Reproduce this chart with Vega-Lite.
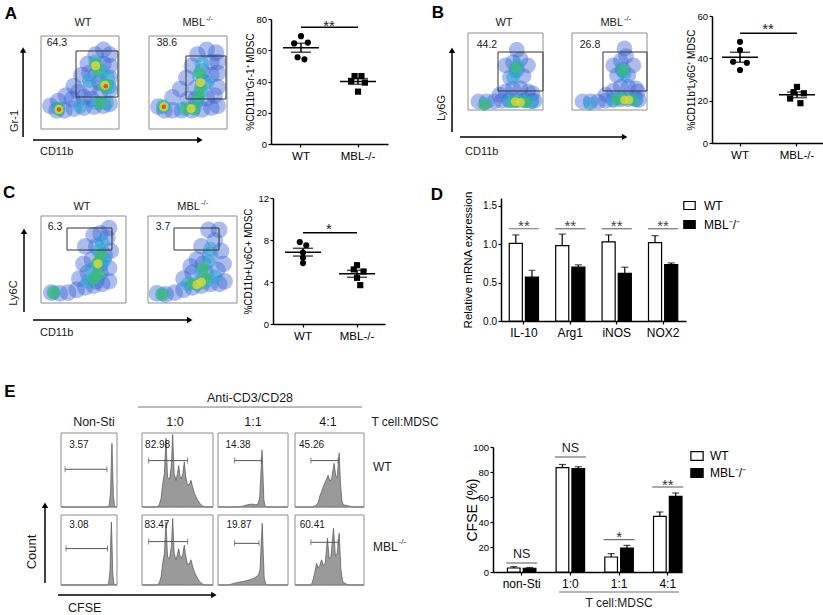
{
  "$schema": "https://vega.github.io/schema/vega-lite/v6.json",
  "padding": 0,
  "background": "white",
  "spacing": 0,
  "config": {
    "font": "Liberation Sans",
    "view": {"stroke": null},
    "axis": {"grid": false, "domainColor": "black", "domainWidth": 1.5, "tickColor": "black", "tickWidth": 1.2, "tickSize": 3, "labelFontSize": 11, "labelColor": "black", "titleColor": "black", "titleFontWeight": "normal", "labelAngle": 0, "labelOverlap": false},
    "axisX": {"labelPadding": 3.5},
    "axisY": {"labelPadding": 1.5, "tickCount": 12},
    "text": {"color": "#1a1a1a"},
    "legend": {"labelColor": "black"}
  },
  "datasets": {
    "aWT": [{"x":12,"y":25,"l":1},{"x":20,"y":20,"l":1},{"x":30,"y":20,"l":1},{"x":42,"y":22,"l":1},{"x":55,"y":23,"l":1},{"x":68,"y":24,"l":1},{"x":80,"y":25,"l":1},{"x":88,"y":27,"l":1},{"x":32,"y":36,"l":1},{"x":42,"y":46,"l":1},{"x":52,"y":58,"l":1},{"x":60,"y":70,"l":1},{"x":70,"y":80,"l":1},{"x":80,"y":85,"l":1},{"x":88,"y":80,"l":1},{"x":88,"y":68,"l":1},{"x":88,"y":55,"l":1},{"x":88,"y":42,"l":1},{"x":76,"y":40,"l":1},{"x":63,"y":44,"l":1},{"x":55,"y":34,"l":1},{"x":70,"y":58,"l":1},{"x":80,"y":70,"l":1},{"x":48,"y":40,"l":1},{"x":22,"y":30,"l":1},{"x":40,"y":32,"l":1},{"x":65,"y":32,"l":1},{"x":75,"y":50,"l":1},{"x":62,"y":60,"l":1},{"x":22,"y":22,"l":2},{"x":70,"y":72,"l":2},{"x":78,"y":62,"l":2},{"x":86,"y":55,"l":2},{"x":84,"y":45,"l":2},{"x":72,"y":28,"l":2},{"x":84,"y":28,"l":2},{"x":62,"y":52,"l":2},{"x":88,"y":45,"l":2},{"x":50,"y":24,"l":2},{"x":23,"y":21,"l":3},{"x":70,"y":70,"l":3},{"x":73,"y":63,"l":3},{"x":84,"y":48,"l":3},{"x":80,"y":46,"l":3},{"x":76,"y":28,"l":3},{"x":23,"y":21,"l":4},{"x":70,"y":68,"l":4},{"x":82,"y":47,"l":4},{"x":23,"y":21,"l":5},{"x":83,"y":46,"l":5}],
    "aMBL": [{"x":12,"y":24,"l":1},{"x":20,"y":20,"l":1},{"x":30,"y":20,"l":1},{"x":42,"y":20,"l":1},{"x":55,"y":20,"l":1},{"x":68,"y":21,"l":1},{"x":80,"y":23,"l":1},{"x":88,"y":25,"l":1},{"x":30,"y":34,"l":1},{"x":40,"y":43,"l":1},{"x":48,"y":55,"l":1},{"x":55,"y":68,"l":1},{"x":62,"y":80,"l":1},{"x":74,"y":85,"l":1},{"x":86,"y":82,"l":1},{"x":88,"y":72,"l":1},{"x":88,"y":60,"l":1},{"x":88,"y":45,"l":1},{"x":84,"y":36,"l":1},{"x":74,"y":33,"l":1},{"x":50,"y":32,"l":1},{"x":80,"y":58,"l":1},{"x":80,"y":72,"l":1},{"x":70,"y":50,"l":1},{"x":60,"y":44,"l":1},{"x":60,"y":32,"l":1},{"x":68,"y":62,"l":1},{"x":18,"y":24,"l":2},{"x":45,"y":22,"l":2},{"x":58,"y":22,"l":2},{"x":66,"y":40,"l":2},{"x":64,"y":58,"l":2},{"x":68,"y":70,"l":2},{"x":75,"y":50,"l":2},{"x":62,"y":30,"l":2},{"x":19,"y":24,"l":3},{"x":48,"y":22,"l":3},{"x":58,"y":22,"l":3},{"x":66,"y":45,"l":3},{"x":65,"y":60,"l":3},{"x":64,"y":35,"l":3},{"x":19,"y":24,"l":4},{"x":66,"y":50,"l":4},{"x":54,"y":22,"l":4},{"x":19,"y":24,"l":5}],
    "bWT": [{"x":14,"y":11,"l":1},{"x":25,"y":11,"l":1},{"x":35,"y":11,"l":1},{"x":45,"y":12,"l":1},{"x":55,"y":13,"l":1},{"x":65,"y":13,"l":1},{"x":75,"y":13,"l":1},{"x":85,"y":12,"l":1},{"x":89,"y":12,"l":1},{"x":50,"y":24,"l":1},{"x":60,"y":28,"l":1},{"x":70,"y":28,"l":1},{"x":80,"y":24,"l":1},{"x":56,"y":42,"l":1},{"x":74,"y":44,"l":1},{"x":60,"y":62,"l":1},{"x":70,"y":66,"l":1},{"x":65,"y":78,"l":1},{"x":50,"y":58,"l":1},{"x":80,"y":58,"l":1},{"x":42,"y":20,"l":1},{"x":86,"y":22,"l":1},{"x":65,"y":52,"l":1},{"x":22,"y":8,"l":2},{"x":55,"y":11,"l":2},{"x":65,"y":12,"l":2},{"x":75,"y":11,"l":2},{"x":85,"y":10,"l":2},{"x":63,"y":50,"l":2},{"x":66,"y":58,"l":2},{"x":60,"y":42,"l":2},{"x":22,"y":7,"l":3},{"x":60,"y":10,"l":3},{"x":68,"y":11,"l":3},{"x":78,"y":10,"l":3},{"x":64,"y":55,"l":3},{"x":63,"y":11,"l":4},{"x":70,"y":10,"l":4}],
    "bMBL": [{"x":14,"y":11,"l":1},{"x":25,"y":11,"l":1},{"x":35,"y":11,"l":1},{"x":45,"y":12,"l":1},{"x":55,"y":13,"l":1},{"x":65,"y":14,"l":1},{"x":75,"y":14,"l":1},{"x":85,"y":14,"l":1},{"x":89,"y":13,"l":1},{"x":55,"y":25,"l":1},{"x":65,"y":30,"l":1},{"x":75,"y":30,"l":1},{"x":85,"y":28,"l":1},{"x":60,"y":45,"l":1},{"x":75,"y":45,"l":1},{"x":65,"y":64,"l":1},{"x":72,"y":70,"l":1},{"x":70,"y":80,"l":1},{"x":55,"y":58,"l":1},{"x":82,"y":58,"l":1},{"x":45,"y":20,"l":1},{"x":88,"y":24,"l":1},{"x":68,"y":52,"l":1},{"x":24,"y":8,"l":2},{"x":55,"y":13,"l":2},{"x":65,"y":15,"l":2},{"x":75,"y":15,"l":2},{"x":85,"y":13,"l":2},{"x":66,"y":52,"l":2},{"x":70,"y":46,"l":2},{"x":60,"y":14,"l":3},{"x":70,"y":14,"l":3},{"x":80,"y":13,"l":3},{"x":68,"y":52,"l":3},{"x":70,"y":13,"l":4},{"x":76,"y":13,"l":4}],
    "cWT": [{"x":12,"y":12,"l":1},{"x":22,"y":11,"l":1},{"x":32,"y":12,"l":1},{"x":42,"y":15,"l":1},{"x":52,"y":18,"l":1},{"x":62,"y":20,"l":1},{"x":72,"y":22,"l":1},{"x":80,"y":25,"l":1},{"x":45,"y":28,"l":1},{"x":55,"y":35,"l":1},{"x":70,"y":35,"l":1},{"x":80,"y":40,"l":1},{"x":60,"y":50,"l":1},{"x":75,"y":55,"l":1},{"x":82,"y":60,"l":1},{"x":65,"y":65,"l":1},{"x":78,"y":75,"l":1},{"x":70,"y":80,"l":1},{"x":80,"y":86,"l":1},{"x":52,"y":65,"l":1},{"x":62,"y":78,"l":1},{"x":50,"y":45,"l":1},{"x":65,"y":25,"l":1},{"x":70,"y":45,"l":1},{"x":15,"y":12,"l":2},{"x":55,"y":25,"l":2},{"x":65,"y":30,"l":2},{"x":70,"y":45,"l":2},{"x":68,"y":60,"l":2},{"x":75,"y":50,"l":2},{"x":72,"y":70,"l":2},{"x":60,"y":38,"l":2},{"x":15,"y":12,"l":3},{"x":66,"y":46,"l":3},{"x":68,"y":33,"l":3},{"x":70,"y":55,"l":3},{"x":62,"y":28,"l":3},{"x":67,"y":45,"l":4}],
    "cMBL": [{"x":10,"y":11,"l":1},{"x":20,"y":10,"l":1},{"x":30,"y":12,"l":1},{"x":40,"y":15,"l":1},{"x":50,"y":18,"l":1},{"x":60,"y":20,"l":1},{"x":70,"y":22,"l":1},{"x":80,"y":22,"l":1},{"x":86,"y":25,"l":1},{"x":40,"y":28,"l":1},{"x":50,"y":35,"l":1},{"x":65,"y":35,"l":1},{"x":78,"y":38,"l":1},{"x":85,"y":45,"l":1},{"x":55,"y":50,"l":1},{"x":70,"y":55,"l":1},{"x":82,"y":60,"l":1},{"x":60,"y":65,"l":1},{"x":75,"y":72,"l":1},{"x":68,"y":84,"l":1},{"x":80,"y":84,"l":1},{"x":48,"y":42,"l":1},{"x":62,"y":45,"l":1},{"x":16,"y":10,"l":2},{"x":45,"y":22,"l":2},{"x":55,"y":22,"l":2},{"x":65,"y":25,"l":2},{"x":60,"y":35,"l":2},{"x":68,"y":48,"l":2},{"x":70,"y":62,"l":2},{"x":75,"y":30,"l":2},{"x":16,"y":10,"l":3},{"x":50,"y":22,"l":3},{"x":58,"y":22,"l":3},{"x":65,"y":28,"l":3},{"x":62,"y":40,"l":3},{"x":55,"y":21,"l":4},{"x":60,"y":24,"l":4}],
    "aS": [{"g":"WT","r":3,"v":69},{"g":"WT","r":1,"v":64.4},{"g":"WT","r":5,"v":64.9},{"g":"WT","r":2,"v":55.5},{"g":"WT","r":4,"v":54.2},{"g":"MBL-/-","r":2,"v":43.5},{"g":"MBL-/-","r":4,"v":43.5},{"g":"MBL-/-","r":1,"v":40.3},{"g":"MBL-/-","r":5,"v":39.3},{"g":"MBL-/-","r":3,"v":33.5}],
    "bS": [{"g":"WT","r":3,"v":47.8},{"g":"WT","r":3,"v":43.9},{"g":"WT","r":1,"v":38.4},{"g":"WT","r":5,"v":37.9},{"g":"WT","r":3,"v":34.5},{"g":"MBL-/-","r":3,"v":26.5},{"g":"MBL-/-","r":2,"v":24},{"g":"MBL-/-","r":5,"v":23.5},{"g":"MBL-/-","r":1,"v":21},{"g":"MBL-/-","r":4,"v":18.8}],
    "cS": [{"g":"WT","r":2,"v":7.8},{"g":"WT","r":4,"v":7.5},{"g":"WT","r":3,"v":6.8},{"g":"WT","r":3,"v":6.3},{"g":"WT","r":3,"v":5.8},{"g":"MBL-/-","r":3,"v":5.6},{"g":"MBL-/-","r":2,"v":5.2},{"g":"MBL-/-","r":5,"v":5.0},{"g":"MBL-/-","r":3,"v":4.4},{"g":"MBL-/-","r":4,"v":3.7}],
    "dD": [{"gene":"IL-10","g":"WT","val":1.01,"hi":1.12},{"gene":"IL-10","g":"MBL","val":0.57,"hi":0.66},{"gene":"Arg1","g":"WT","val":0.98,"hi":1.13},{"gene":"Arg1","g":"MBL","val":0.70,"hi":0.73},{"gene":"iNOS","g":"WT","val":1.03,"hi":1.12},{"gene":"iNOS","g":"MBL","val":0.62,"hi":0.70},{"gene":"NOX2","g":"WT","val":1.02,"hi":1.11},{"gene":"NOX2","g":"MBL","val":0.735,"hi":0.755}],
    "dSig": [{"gene":"IL-10"},{"gene":"Arg1"},{"gene":"iNOS"},{"gene":"NOX2"}],
    "dE": [{"c":"non-Sti","g":"WT","val":3.2,"hi":4.3},{"c":"non-Sti","g":"MBL","val":3.0,"hi":3.6},{"c":"1:0","g":"WT","val":83.5,"hi":86},{"c":"1:0","g":"MBL","val":82.7,"hi":84.2},{"c":"1:1","g":"WT","val":12,"hi":14.7},{"c":"1:1","g":"MBL","val":19.2,"hi":21.3},{"c":"4:1","g":"WT","val":44.5,"hi":48},{"c":"4:1","g":"MBL","val":60.5,"hi":63.2}],
    "eSig": [{"c":"non-Sti","p":"NS","at":7.2},{"c":"1:0","p":"NS","at":92},{"c":"1:1","p":"*","at":25.9},{"c":"4:1","p":"**","at":68}],
    "hNsW": [{"x":0,"y":0},{"x":82,"y":0},{"x":86,"y":2},{"x":88.5,"y":20},{"x":90,"y":65},{"x":91,"y":86},{"x":92,"y":60},{"x":93.5,"y":15},{"x":95.5,"y":2},{"x":98,"y":0},{"x":100,"y":0}],
    "hNsM": [{"x":0,"y":0},{"x":81,"y":0},{"x":85,"y":2},{"x":87.5,"y":20},{"x":89,"y":70},{"x":90,"y":90},{"x":91,"y":62},{"x":92.5,"y":15},{"x":94.5,"y":2},{"x":97,"y":0},{"x":100,"y":0}],
    "h10W": [{"x":0,"y":0},{"x":20,"y":0},{"x":24,"y":2},{"x":27,"y":12},{"x":29,"y":30},{"x":31.5,"y":45},{"x":33.8,"y":93},{"x":36,"y":40},{"x":38.9,"y":38},{"x":41.3,"y":55},{"x":43.2,"y":98},{"x":45.3,"y":45},{"x":47.9,"y":36},{"x":50,"y":45},{"x":51.6,"y":56},{"x":53.5,"y":42},{"x":55.5,"y":38},{"x":57.5,"y":45},{"x":59.6,"y":61},{"x":61.5,"y":42},{"x":64,"y":30},{"x":66.5,"y":30},{"x":69,"y":36},{"x":71,"y":28},{"x":74,"y":18},{"x":78,"y":10},{"x":82,"y":4},{"x":86,"y":1},{"x":90,"y":0},{"x":100,"y":0}],
    "h10M": [{"x":0,"y":0},{"x":20,"y":0},{"x":24,"y":2},{"x":27,"y":12},{"x":29,"y":30},{"x":31.5,"y":45},{"x":33.8,"y":90},{"x":36,"y":40},{"x":38.9,"y":38},{"x":41.3,"y":55},{"x":43.2,"y":95},{"x":45.3,"y":45},{"x":47.9,"y":36},{"x":50,"y":44},{"x":51.6,"y":52},{"x":53.5,"y":42},{"x":55.5,"y":38},{"x":57.5,"y":44},{"x":59.6,"y":57},{"x":61.5,"y":42},{"x":64,"y":30},{"x":66.5,"y":30},{"x":69,"y":36},{"x":71,"y":28},{"x":74,"y":18},{"x":78,"y":10},{"x":82,"y":4},{"x":86,"y":1},{"x":90,"y":0},{"x":100,"y":0}],
    "h11W": [{"x":0,"y":0},{"x":25,"y":0},{"x":35,"y":1},{"x":42,"y":3},{"x":48,"y":4},{"x":54,"y":3},{"x":57,"y":4},{"x":59.5,"y":12},{"x":61,"y":40},{"x":62.9,"y":77},{"x":64.2,"y":45},{"x":65.5,"y":10},{"x":67,"y":2},{"x":70,"y":0},{"x":100,"y":0}],
    "h11M": [{"x":0,"y":0},{"x":15,"y":0},{"x":21,"y":2},{"x":30,"y":4},{"x":40,"y":6},{"x":47,"y":8},{"x":52,"y":10},{"x":56,"y":13},{"x":58,"y":15},{"x":60,"y":22},{"x":61.5,"y":55},{"x":63.2,"y":88},{"x":64.5,"y":50},{"x":66,"y":10},{"x":68,"y":2},{"x":71,"y":0},{"x":100,"y":0}],
    "h41W": [{"x":0,"y":0},{"x":25,"y":0},{"x":30,"y":2},{"x":33.7,"y":6},{"x":36,"y":15},{"x":39,"y":22},{"x":42,"y":30},{"x":45,"y":36},{"x":48,"y":43},{"x":50.5,"y":35},{"x":53,"y":38},{"x":56.7,"y":59},{"x":59,"y":42},{"x":61,"y":40},{"x":64,"y":73},{"x":66,"y":30},{"x":68,"y":8},{"x":70,"y":3},{"x":75,"y":2},{"x":80,"y":1},{"x":85,"y":0},{"x":100,"y":0}],
    "h41M": [{"x":0,"y":0},{"x":22,"y":0},{"x":25,"y":3},{"x":28,"y":15},{"x":31.3,"y":31},{"x":33.5,"y":24},{"x":36,"y":28},{"x":38.5,"y":36},{"x":41,"y":28},{"x":44,"y":32},{"x":47,"y":67},{"x":49.5,"y":38},{"x":52,"y":40},{"x":55.8,"y":81},{"x":58.5,"y":42},{"x":61,"y":44},{"x":64,"y":74},{"x":66.5,"y":22},{"x":69,"y":5},{"x":73,"y":2},{"x":78,"y":0},{"x":100,"y":0}]
  },
  "resolve": {"scale": {"x": "independent", "y": "independent", "xOffset": "independent", "fill": "independent", "size": "independent", "opacity": "independent", "shape": "independent", "color": "independent"}},
  "vconcat": [
    {
      "hconcat": [
        {
          "width": 149, "height": 165,
          "data": {"values": [{}]},
          "layer": [
            {"data": {"name": "aWT"}, "mark": {"type": "circle", "strokeWidth": 0}, "encoding": {"x": {"field": "x", "type": "quantitative", "scale": {"domain": [0, 100], "range": [41, 119]}, "axis": null}, "y": {"field": "y", "type": "quantitative", "scale": {"domain": [0, 100], "range": [129, 36]}, "axis": null}, "size": {"field": "l", "type": "quantitative", "scale": {"domain": [1, 5], "range": [280, 20]}, "legend": null}, "fill": {"field": "l", "type": "ordinal", "scale": {"domain": [1, 2, 3, 4, 5], "range": ["#3a62d4", "#27a9d6", "#3cbf6a", "#dcd83a", "#e2452c"]}, "legend": null}, "opacity": {"field": "l", "type": "quantitative", "scale": {"domain": [1, 5], "range": [0.42, 0.95]}, "legend": null}}},
            {"mark": {"type": "rect", "filled": false, "stroke": "#8c8c8c", "strokeWidth": 1}, "encoding": {"x": {"datum": 0, "axis": null}, "x2": {"datum": 100}, "y": {"datum": 0, "axis": null}, "y2": {"datum": 100}}},
            {"mark": {"type": "rect", "filled": false, "stroke": "#333333", "strokeWidth": 1}, "encoding": {"x": {"datum": 44.9, "axis": null}, "x2": {"datum": 98.7}, "y": {"datum": 34.4, "axis": null}, "y2": {"datum": 83.9}}},
            {"mark": {"type": "rule", "strokeWidth": 1.5, "color": "black"}, "encoding": {"x": {"datum": -23, "axis": null}, "y": {"datum": -8.6, "axis": null}, "y2": {"datum": 85}}},
            {"mark": {"type": "point", "shape": "triangle-up", "filled": true, "opacity": 1, "color": "black", "size": 40}, "encoding": {"x": {"datum": -23, "axis": null}, "y": {"datum": 85, "axis": null}}},
            {"mark": {"type": "text", "text": "Gr-1", "angle": 270, "fontSize": 11}, "encoding": {"x": {"datum": -33.3, "axis": null}, "y": {"datum": 8.6, "axis": null}}},
            {"mark": {"type": "rule", "strokeWidth": 1.5, "color": "black"}, "encoding": {"x": {"datum": -10.3, "axis": null}, "x2": {"datum": 203.7}, "y": {"datum": -11.8, "axis": null}}},
            {"mark": {"type": "point", "shape": "triangle-right", "filled": true, "opacity": 1, "color": "black", "size": 40}, "encoding": {"x": {"datum": 203.7, "axis": null}, "y": {"datum": -11.8, "axis": null}}},
            {"mark": {"type": "text", "text": "CD11b", "align": "left", "fontSize": 11}, "encoding": {"x": {"datum": -1.3, "axis": null}, "y": {"datum": -24.7, "axis": null}}},
            {"mark": {"type": "text", "text": "A", "fontSize": 17, "fontWeight": "bold", "color": "black"}, "encoding": {"x": {"datum": -38.5, "axis": null}, "y": {"datum": 123.7, "axis": null}}},
            {"mark": {"type": "text", "text": "WT", "fontSize": 11}, "encoding": {"x": {"datum": 53.8, "axis": null}, "y": {"datum": 114, "axis": null}}},
            {"mark": {"type": "text", "text": "64.3", "fontSize": 10.5}, "encoding": {"x": {"datum": 20.5, "axis": null}, "y": {"datum": 92.5, "axis": null}}}
          ]
        },
        {
          "width": 122, "height": 165,
          "data": {"values": [{}]},
          "layer": [
            {"data": {"name": "aMBL"}, "mark": {"type": "circle", "strokeWidth": 0}, "encoding": {"x": {"field": "x", "type": "quantitative", "scale": {"domain": [0, 100], "range": [0, 78]}, "axis": null}, "y": {"field": "y", "type": "quantitative", "scale": {"domain": [0, 100], "range": [129, 36]}, "axis": null}, "size": {"field": "l", "type": "quantitative", "scale": {"domain": [1, 5], "range": [280, 20]}, "legend": null}, "fill": {"field": "l", "type": "ordinal", "scale": {"domain": [1, 2, 3, 4, 5], "range": ["#3a62d4", "#27a9d6", "#3cbf6a", "#dcd83a", "#e2452c"]}, "legend": null}, "opacity": {"field": "l", "type": "quantitative", "scale": {"domain": [1, 5], "range": [0.42, 0.95]}, "legend": null}}},
            {"mark": {"type": "rect", "filled": false, "stroke": "#8c8c8c", "strokeWidth": 1}, "encoding": {"x": {"datum": 0, "axis": null}, "x2": {"datum": 100}, "y": {"datum": 0, "axis": null}, "y2": {"datum": 100}}},
            {"mark": {"type": "rect", "filled": false, "stroke": "#333333", "strokeWidth": 1}, "encoding": {"x": {"datum": 47.4, "axis": null}, "x2": {"datum": 98.7}, "y": {"datum": 32.3, "axis": null}, "y2": {"datum": 78.5}}},
            {"mark": {"type": "text", "text": "MBL", "align": "right", "fontSize": 11}, "encoding": {"x": {"datum": 71.8, "axis": null}, "y": {"datum": 114, "axis": null}}},
            {"mark": {"type": "text", "text": "-/-", "align": "left", "fontSize": 7.5}, "encoding": {"x": {"datum": 73, "axis": null}, "y": {"datum": 118.3, "axis": null}}},
            {"mark": {"type": "text", "text": "38.6", "fontSize": 10.5}, "encoding": {"x": {"datum": 23, "axis": null}, "y": {"datum": 92.5, "axis": null}}}
          ]
        },
        {
          "width": 149, "height": 144,
          "data": {"name": "aS"},
          "layer": [
            {"mark": {"type": "point", "filled": true, "opacity": 1, "color": "black", "size": 38}, "encoding": {
              "x": {"field": "g", "type": "nominal", "scale": {"domain": ["WT", "MBL-/-"], "range": [0, 117], "paddingInner": 0.7, "paddingOuter": 0.376}, "axis": {"title": null, "labelFontSize": 11.5}},
              "y": {"field": "v", "type": "quantitative", "scale": {"domain": [0, 80], "range": [144, 19]}, "axis": {"values": [0, 20, 40, 60, 80], "tickCount": 12, "labelFontSize": 9.5, "titleFontSize": 10, "titleX": -21, "titleBaseline": "middle"}, "title": "%CD11b⁺Gr-1⁺ MDSC"},
              "xOffset": {"field": "r", "type": "nominal", "scale": {"domain": [1, 2, 3, 4, 5]}},
              "shape": {"field": "g", "type": "nominal", "scale": {"domain": ["WT", "MBL-/-"], "range": ["circle", "square"]}, "legend": null}}},
            {"mark": {"type": "tick", "size": 36, "thickness": 1.5, "color": "black"}, "encoding": {"x": {"field": "g", "type": "nominal", "title": null}, "y": {"aggregate": "mean", "field": "v", "type": "quantitative", "title": "%CD11b⁺Gr-1⁺ MDSC"}}},
            {"mark": {"type": "errorbar", "extent": "stderr", "ticks": {"size": 20}, "thickness": 1.5, "color": "black"}, "encoding": {"x": {"field": "g", "type": "nominal", "title": null}, "y": {"field": "v", "type": "quantitative", "title": "%CD11b⁺Gr-1⁺ MDSC"}}},
            {"data": {"values": [{}]}, "mark": {"type": "rule", "strokeWidth": 1.5, "color": "black"}, "encoding": {"x": {"datum": "WT", "title": null}, "x2": {"datum": "MBL-/-"}, "y": {"datum": 74.7, "title": "%CD11b⁺Gr-1⁺ MDSC"}}},
            {"data": {"values": [{}]}, "mark": {"type": "text", "text": "**", "fontSize": 15, "dx": 28, "dy": 3.6, "baseline": "alphabetic", "color": "#222222"}, "encoding": {"x": {"datum": "WT", "title": null}, "y": {"datum": 74.7, "title": "%CD11b⁺Gr-1⁺ MDSC"}}}
          ]
        },
        {
          "width": 152, "height": 165,
          "data": {"values": [{}]},
          "layer": [
            {"data": {"name": "bWT"}, "mark": {"type": "circle", "strokeWidth": 0}, "encoding": {"x": {"field": "x", "type": "quantitative", "scale": {"domain": [0, 100], "range": [48, 123]}, "axis": null}, "y": {"field": "y", "type": "quantitative", "scale": {"domain": [0, 100], "range": [110, 33]}, "axis": null}, "size": {"field": "l", "type": "quantitative", "scale": {"domain": [1, 5], "range": [250, 20]}, "legend": null}, "fill": {"field": "l", "type": "ordinal", "scale": {"domain": [1, 2, 3, 4, 5], "range": ["#3a62d4", "#27a9d6", "#3cbf6a", "#dcd83a", "#e2452c"]}, "legend": null}, "opacity": {"field": "l", "type": "quantitative", "scale": {"domain": [1, 5], "range": [0.42, 0.95]}, "legend": null}}},
            {"mark": {"type": "rect", "filled": false, "stroke": "#8c8c8c", "strokeWidth": 1}, "encoding": {"x": {"datum": 0, "axis": null}, "x2": {"datum": 100}, "y": {"datum": 0, "axis": null}, "y2": {"datum": 100}}},
            {"mark": {"type": "rect", "filled": false, "stroke": "#333333", "strokeWidth": 1}, "encoding": {"x": {"datum": 40, "axis": null}, "x2": {"datum": 100}, "y": {"datum": 24.7, "axis": null}, "y2": {"datum": 75.3}}},
            {"mark": {"type": "rule", "strokeWidth": 1.5, "color": "black"}, "encoding": {"x": {"datum": -21.3, "axis": null}, "y": {"datum": -28.6, "axis": null}, "y2": {"datum": 77.7}}},
            {"mark": {"type": "point", "shape": "triangle-up", "filled": true, "opacity": 1, "color": "black", "size": 40}, "encoding": {"x": {"datum": -21.3, "axis": null}, "y": {"datum": 77.7, "axis": null}}},
            {"mark": {"type": "text", "text": "Ly6G", "angle": 270, "fontSize": 11}, "encoding": {"x": {"datum": -34.7, "axis": null}, "y": {"datum": 2.6, "axis": null}}},
            {"mark": {"type": "rule", "strokeWidth": 1.5, "color": "black"}, "encoding": {"x": {"datum": -10.7, "axis": null}, "x2": {"datum": 208.8}, "y": {"datum": -35, "axis": null}}},
            {"mark": {"type": "point", "shape": "triangle-right", "filled": true, "opacity": 1, "color": "black", "size": 40}, "encoding": {"x": {"datum": 208.8, "axis": null}, "y": {"datum": -35, "axis": null}}},
            {"mark": {"type": "text", "text": "CD11b", "align": "left", "fontSize": 11}, "encoding": {"x": {"datum": -4, "axis": null}, "y": {"datum": -54.5, "axis": null}}},
            {"mark": {"type": "text", "text": "B", "fontSize": 17, "fontWeight": "bold", "color": "black"}, "encoding": {"x": {"datum": -40, "axis": null}, "y": {"datum": 126, "axis": null}}},
            {"mark": {"type": "text", "text": "WT", "fontSize": 11}, "encoding": {"x": {"datum": 48, "axis": null}, "y": {"datum": 113, "axis": null}}},
            {"mark": {"type": "text", "text": "44.2", "fontSize": 10.5}, "encoding": {"x": {"datum": 25.3, "axis": null}, "y": {"datum": 84.4, "axis": null}}}
          ]
        },
        {
          "width": 140, "height": 165,
          "data": {"values": [{}]},
          "layer": [
            {"data": {"name": "bMBL"}, "mark": {"type": "circle", "strokeWidth": 0}, "encoding": {"x": {"field": "x", "type": "quantitative", "scale": {"domain": [0, 100], "range": [0, 75]}, "axis": null}, "y": {"field": "y", "type": "quantitative", "scale": {"domain": [0, 100], "range": [110, 33]}, "axis": null}, "size": {"field": "l", "type": "quantitative", "scale": {"domain": [1, 5], "range": [250, 20]}, "legend": null}, "fill": {"field": "l", "type": "ordinal", "scale": {"domain": [1, 2, 3, 4, 5], "range": ["#3a62d4", "#27a9d6", "#3cbf6a", "#dcd83a", "#e2452c"]}, "legend": null}, "opacity": {"field": "l", "type": "quantitative", "scale": {"domain": [1, 5], "range": [0.42, 0.95]}, "legend": null}}},
            {"mark": {"type": "rect", "filled": false, "stroke": "#8c8c8c", "strokeWidth": 1}, "encoding": {"x": {"datum": 0, "axis": null}, "x2": {"datum": 100}, "y": {"datum": 0, "axis": null}, "y2": {"datum": 100}}},
            {"mark": {"type": "rect", "filled": false, "stroke": "#333333", "strokeWidth": 1}, "encoding": {"x": {"datum": 41.3, "axis": null}, "x2": {"datum": 100}, "y": {"datum": 24.7, "axis": null}, "y2": {"datum": 75.3}}},
            {"mark": {"type": "text", "text": "MBL", "align": "right", "fontSize": 11}, "encoding": {"x": {"datum": 68, "axis": null}, "y": {"datum": 113, "axis": null}}},
            {"mark": {"type": "text", "text": "-/-", "align": "left", "fontSize": 7.5}, "encoding": {"x": {"datum": 69.3, "axis": null}, "y": {"datum": 118.2, "axis": null}}},
            {"mark": {"type": "text", "text": "26.8", "fontSize": 10.5}, "encoding": {"x": {"datum": 24, "axis": null}, "y": {"datum": 84.4, "axis": null}}}
          ]
        },
        {
          "width": 111, "height": 143,
          "data": {"name": "bS"},
          "layer": [
            {"mark": {"type": "point", "filled": true, "opacity": 1, "color": "black", "size": 38}, "encoding": {
              "x": {"field": "g", "type": "nominal", "scale": {"domain": ["WT", "MBL-/-"], "range": [0, 111], "paddingInner": 0.7, "paddingOuter": 0.324, "align": 0.527}, "axis": {"title": null, "labelFontSize": 11.5}},
              "y": {"field": "v", "type": "quantitative", "scale": {"domain": [0, 60], "range": [143, 16]}, "axis": {"values": [0, 20, 40, 60], "tickCount": 12, "labelFontSize": 9.5, "titleFontSize": 10, "titleX": -21, "titleBaseline": "middle"}, "title": "%CD11b⁺Ly6G⁺ MDSC"},
              "xOffset": {"field": "r", "type": "nominal", "scale": {"domain": [1, 2, 3, 4, 5]}},
              "shape": {"field": "g", "type": "nominal", "scale": {"domain": ["WT", "MBL-/-"], "range": ["circle", "square"]}, "legend": null}}},
            {"mark": {"type": "tick", "size": 36, "thickness": 1.5, "color": "black"}, "encoding": {"x": {"field": "g", "type": "nominal", "title": null}, "y": {"aggregate": "mean", "field": "v", "type": "quantitative", "title": "%CD11b⁺Ly6G⁺ MDSC"}}},
            {"mark": {"type": "errorbar", "extent": "stderr", "ticks": {"size": 20}, "thickness": 1.5, "color": "black"}, "encoding": {"x": {"field": "g", "type": "nominal", "title": null}, "y": {"field": "v", "type": "quantitative", "title": "%CD11b⁺Ly6G⁺ MDSC"}}},
            {"data": {"values": [{}]}, "mark": {"type": "rule", "strokeWidth": 1.5, "color": "black"}, "encoding": {"x": {"datum": "WT", "title": null}, "x2": {"datum": "MBL-/-"}, "y": {"datum": 51.8, "title": "%CD11b⁺Ly6G⁺ MDSC"}}},
            {"data": {"values": [{}]}, "mark": {"type": "text", "text": "**", "fontSize": 15, "dx": 28, "dy": 0.6, "baseline": "alphabetic", "color": "#222222"}, "encoding": {"x": {"datum": "WT", "title": null}, "y": {"datum": 51.8, "title": "%CD11b⁺Ly6G⁺ MDSC"}}}
          ]
        }
      ],
      "spacing": 0,
      "bounds": "flush",
      "resolve": {"scale": {"x": "independent", "y": "independent", "xOffset": "independent", "fill": "independent", "size": "independent", "opacity": "independent", "shape": "independent", "color": "independent"}}
    },
    {
      "hconcat": [
        {
          "width": 148, "height": 215,
          "data": {"values": [{}]},
          "layer": [
            {"data": {"name": "cWT"}, "mark": {"type": "circle", "strokeWidth": 0}, "encoding": {"x": {"field": "x", "type": "quantitative", "scale": {"domain": [0, 100], "range": [41, 126]}, "axis": null}, "y": {"field": "y", "type": "quantitative", "scale": {"domain": [0, 100], "range": [138, 51]}, "axis": null}, "size": {"field": "l", "type": "quantitative", "scale": {"domain": [1, 5], "range": [280, 20]}, "legend": null}, "fill": {"field": "l", "type": "ordinal", "scale": {"domain": [1, 2, 3, 4, 5], "range": ["#3a62d4", "#27a9d6", "#3cbf6a", "#dcd83a", "#e2452c"]}, "legend": null}, "opacity": {"field": "l", "type": "quantitative", "scale": {"domain": [1, 5], "range": [0.42, 0.95]}, "legend": null}}},
            {"mark": {"type": "rect", "filled": false, "stroke": "#8c8c8c", "strokeWidth": 1}, "encoding": {"x": {"datum": 0, "axis": null}, "x2": {"datum": 100}, "y": {"datum": 0, "axis": null}, "y2": {"datum": 100}}},
            {"mark": {"type": "rect", "filled": false, "stroke": "#333333", "strokeWidth": 1}, "encoding": {"x": {"datum": 30.6, "axis": null}, "x2": {"datum": 83.5}, "y": {"datum": 60.9, "axis": null}, "y2": {"datum": 86.2}}},
            {"mark": {"type": "rule", "strokeWidth": 1.5, "color": "black"}, "encoding": {"x": {"datum": -20, "axis": null}, "y": {"datum": -10.3, "axis": null}, "y2": {"datum": 82.5}}},
            {"mark": {"type": "point", "shape": "triangle-up", "filled": true, "opacity": 1, "color": "black", "size": 40}, "encoding": {"x": {"datum": -20, "axis": null}, "y": {"datum": 82.5, "axis": null}}},
            {"mark": {"type": "text", "text": "Ly6C", "angle": 270, "fontSize": 11}, "encoding": {"x": {"datum": -31.8, "axis": null}, "y": {"datum": 11.5, "axis": null}}},
            {"mark": {"type": "rule", "strokeWidth": 1.5, "color": "black"}, "encoding": {"x": {"datum": -9.4, "axis": null}, "x2": {"datum": 175}, "y": {"datum": -19.5, "axis": null}}},
            {"mark": {"type": "point", "shape": "triangle-right", "filled": true, "opacity": 1, "color": "black", "size": 40}, "encoding": {"x": {"datum": 175, "axis": null}, "y": {"datum": -19.5, "axis": null}}},
            {"mark": {"type": "text", "text": "CD11b", "align": "left", "fontSize": 11}, "encoding": {"x": {"datum": -1.2, "axis": null}, "y": {"datum": -34.5, "axis": null}}},
            {"mark": {"type": "text", "text": "C", "fontSize": 17, "fontWeight": "bold", "color": "black"}, "encoding": {"x": {"datum": -37.6, "axis": null}, "y": {"datum": 126.4, "axis": null}}},
            {"mark": {"type": "text", "text": "WT", "fontSize": 11}, "encoding": {"x": {"datum": 48.2, "axis": null}, "y": {"datum": 110.3, "axis": null}}},
            {"mark": {"type": "text", "text": "6.3", "fontSize": 10.5}, "encoding": {"x": {"datum": 16.5, "axis": null}, "y": {"datum": 87.4, "axis": null}}}
          ]
        },
        {
          "width": 125, "height": 215,
          "data": {"values": [{}]},
          "layer": [
            {"data": {"name": "cMBL"}, "mark": {"type": "circle", "strokeWidth": 0}, "encoding": {"x": {"field": "x", "type": "quantitative", "scale": {"domain": [0, 100], "range": [0, 89]}, "axis": null}, "y": {"field": "y", "type": "quantitative", "scale": {"domain": [0, 100], "range": [138, 51]}, "axis": null}, "size": {"field": "l", "type": "quantitative", "scale": {"domain": [1, 5], "range": [280, 20]}, "legend": null}, "fill": {"field": "l", "type": "ordinal", "scale": {"domain": [1, 2, 3, 4, 5], "range": ["#3a62d4", "#27a9d6", "#3cbf6a", "#dcd83a", "#e2452c"]}, "legend": null}, "opacity": {"field": "l", "type": "quantitative", "scale": {"domain": [1, 5], "range": [0.42, 0.95]}, "legend": null}}},
            {"mark": {"type": "rect", "filled": false, "stroke": "#8c8c8c", "strokeWidth": 1}, "encoding": {"x": {"datum": 0, "axis": null}, "x2": {"datum": 100}, "y": {"datum": 0, "axis": null}, "y2": {"datum": 100}}},
            {"mark": {"type": "rect", "filled": false, "stroke": "#333333", "strokeWidth": 1}, "encoding": {"x": {"datum": 29.2, "axis": null}, "x2": {"datum": 79.8}, "y": {"datum": 60.9, "axis": null}, "y2": {"datum": 86.2}}},
            {"mark": {"type": "text", "text": "MBL", "align": "right", "fontSize": 11}, "encoding": {"x": {"datum": 58.4, "axis": null}, "y": {"datum": 110.3, "axis": null}}},
            {"mark": {"type": "text", "text": "-/-", "align": "left", "fontSize": 7.5}, "encoding": {"x": {"datum": 59.6, "axis": null}, "y": {"datum": 114.9, "axis": null}}},
            {"mark": {"type": "text", "text": "3.7", "fontSize": 10.5}, "encoding": {"x": {"datum": 16.9, "axis": null}, "y": {"datum": 87.4, "axis": null}}}
          ]
        },
        {
          "width": 228, "height": 159,
          "data": {"name": "cS"},
          "layer": [
            {"mark": {"type": "point", "filled": true, "opacity": 1, "color": "black", "size": 38}, "encoding": {
              "x": {"field": "g", "type": "nominal", "scale": {"domain": ["WT", "MBL-/-"], "range": [0, 112], "paddingInner": 0.7, "paddingOuter": 0.387, "align": 0.524}, "axis": {"title": null, "labelFontSize": 11.5}},
              "y": {"field": "v", "type": "quantitative", "scale": {"domain": [0, 12], "range": [159, 33]}, "axis": {"values": [0, 4, 8, 12], "tickCount": 12, "labelFontSize": 9.5, "titleFontSize": 10, "titleX": -25, "titleBaseline": "middle"}, "title": "%CD11b+Ly6C+ MDSC"},
              "xOffset": {"field": "r", "type": "nominal", "scale": {"domain": [1, 2, 3, 4, 5]}},
              "shape": {"field": "g", "type": "nominal", "scale": {"domain": ["WT", "MBL-/-"], "range": ["circle", "square"]}, "legend": null}}},
            {"mark": {"type": "tick", "size": 36, "thickness": 1.5, "color": "black"}, "encoding": {"x": {"field": "g", "type": "nominal", "title": null}, "y": {"aggregate": "mean", "field": "v", "type": "quantitative", "title": "%CD11b+Ly6C+ MDSC"}}},
            {"mark": {"type": "errorbar", "extent": "stderr", "ticks": {"size": 20}, "thickness": 1.5, "color": "black"}, "encoding": {"x": {"field": "g", "type": "nominal", "title": null}, "y": {"field": "v", "type": "quantitative", "title": "%CD11b+Ly6C+ MDSC"}}},
            {"data": {"values": [{}]}, "mark": {"type": "rule", "strokeWidth": 1.5, "color": "black"}, "encoding": {"x": {"datum": "WT", "title": null}, "x2": {"datum": "MBL-/-"}, "y": {"datum": 8.7, "title": "%CD11b+Ly6C+ MDSC"}}},
            {"data": {"values": [{}]}, "mark": {"type": "text", "text": "*", "fontSize": 15, "dx": 26, "dy": 0.9, "baseline": "alphabetic", "color": "#222222"}, "encoding": {"x": {"datum": "WT", "title": null}, "y": {"datum": 8.7, "title": "%CD11b+Ly6C+ MDSC"}}},
            {"data": {"values": [{}]}, "mark": {"type": "text", "text": "D", "fontSize": 17, "fontWeight": "bold", "color": "black", "dx": 80}, "encoding": {"x": {"datum": "MBL-/-", "title": null}, "y": {"datum": 12.3, "title": "%CD11b+Ly6C+ MDSC"}}}
          ]
        },
        {
          "width": 322, "height": 156,
          "data": {"name": "dD"},
          "layer": [
            {"mark": {"type": "bar", "stroke": "black", "strokeWidth": 1.2}, "encoding": {
              "x": {"field": "gene", "type": "nominal", "scale": {"domain": ["IL-10", "Arg1", "iNOS", "NOX2"], "range": [0, 185], "paddingInner": 0.37, "paddingOuter": 0.178}, "axis": {"labelFontSize": 12}, "title": null},
              "xOffset": {"field": "g", "type": "nominal", "scale": {"domain": ["WT", "MBL"], "paddingInner": 0.19}},
              "y": {"field": "val", "type": "quantitative", "scale": {"domain": [0, 1.5], "range": [156, 33]}, "axis": {"values": [0, 0.5, 1, 1.5], "tickCount": 12, "format": ".1f", "labelFontSize": 10, "titleFontSize": 11.5, "titleX": -33, "titleBaseline": "middle"}, "title": "Relative mRNA expression"},
              "fill": {"field": "g", "type": "nominal", "scale": {"domain": ["WT", "MBL"], "range": ["white", "black"]}, "legend": {"orient": "none", "legendX": 182, "legendY": 34, "title": null, "symbolType": "M-1,-0.7H1V0.7H-1Z", "symbolSize": 130, "symbolStrokeColor": "black", "symbolStrokeWidth": 1.2, "labelFontSize": 12, "labelOffset": 8, "rowPadding": 6, "labelExpr": "datum.label == 'MBL' ? 'MBL⁻/⁻' : datum.label"}}
            }},
            {"mark": {"type": "rule", "color": "black", "strokeWidth": 1.2}, "encoding": {"x": {"field": "gene", "type": "nominal", "title": null}, "xOffset": {"field": "g", "type": "nominal"}, "y": {"field": "val", "type": "quantitative", "title": "Relative mRNA expression"}, "y2": {"field": "hi"}}},
            {"mark": {"type": "tick", "color": "black", "size": 7, "thickness": 1.2}, "encoding": {"x": {"field": "gene", "type": "nominal", "title": null}, "xOffset": {"field": "g", "type": "nominal"}, "y": {"field": "hi", "type": "quantitative", "title": "Relative mRNA expression"}}},
            {"data": {"name": "dSig"}, "mark": {"type": "tick", "color": "#333333", "size": 30, "thickness": 1.2}, "encoding": {"x": {"field": "gene", "type": "nominal", "title": null}, "y": {"datum": 1.2, "title": "Relative mRNA expression"}}},
            {"data": {"name": "dSig"}, "mark": {"type": "text", "text": "**", "fontSize": 15, "dy": 2.6, "baseline": "alphabetic", "color": "#444444"}, "encoding": {"x": {"field": "gene", "type": "nominal", "title": null}, "y": {"datum": 1.2, "title": "Relative mRNA expression"}}}
          ]
        }
      ],
      "spacing": 0,
      "bounds": "flush",
      "resolve": {"scale": {"x": "independent", "y": "independent", "xOffset": "independent", "fill": "independent", "size": "independent", "opacity": "independent", "shape": "independent", "color": "independent"}}
    },
    {
      "hconcat": [
        {
          "width": 142, "height": 235,
          "data": {"values": [{}]},
          "resolve": {"scale": {"x": "independent", "y": "independent"}},
          "layer": [
            {
              "layer": [
                {"data": {"name": "hNsW"}, "mark": {"type": "area", "color": "#9a9a9a", "stroke": "#555555", "strokeWidth": 0.7}, "encoding": {"x": {"field": "x", "type": "quantitative", "scale": {"domain": [0, 100], "range": [61, 117]}, "axis": null}, "y": {"field": "y", "type": "quantitative", "scale": {"domain": [0, 100], "range": [127, 53]}, "axis": null}}},
                {"mark": {"type": "rect", "filled": false, "stroke": "#8c8c8c", "strokeWidth": 1}, "encoding": {"x": {"datum": 0, "axis": null}, "x2": {"datum": 100}, "y": {"datum": 0, "axis": null}, "y2": {"datum": 100}}},
                {"data": {"values": [{"lo": 7.2, "hi": 82}]}, "mark": {"type": "rule", "color": "#555555"}, "encoding": {"x": {"field": "lo", "type": "quantitative", "axis": null}, "x2": {"field": "hi"}, "y": {"datum": 51, "axis": null}}},
                {"data": {"values": [{"lo": 7.2, "hi": 82}]}, "transform": [{"fold": ["lo", "hi"]}], "mark": {"type": "tick", "orient": "vertical", "size": 6, "thickness": 1, "color": "#555555"}, "encoding": {"x": {"field": "value", "type": "quantitative", "axis": null}, "y": {"datum": 51, "axis": null}}},
                {"mark": {"type": "text", "text": "3.57", "fontSize": 10}, "encoding": {"x": {"datum": 32, "axis": null}, "y": {"datum": 84, "axis": null}}},
                {"mark": {"type": "text", "text": "E", "fontSize": 17, "fontWeight": "bold", "color": "black"}, "encoding": {"x": {"datum": -91, "axis": null}, "y": {"datum": 155.4, "axis": null}}},
                {"mark": {"type": "text", "text": "Non-Sti", "fontSize": 12.5}, "encoding": {"x": {"datum": 58.9, "axis": null}, "y": {"datum": 114.9, "axis": null}}}
              ]
            },
            {
              "layer": [
                {"data": {"name": "hNsM"}, "mark": {"type": "area", "color": "#9a9a9a", "stroke": "#555555", "strokeWidth": 0.7}, "encoding": {"x": {"field": "x", "type": "quantitative", "scale": {"domain": [0, 100], "range": [61, 117]}, "axis": null}, "y": {"field": "y", "type": "quantitative", "scale": {"domain": [0, 100], "range": [205, 135]}, "axis": null}}},
                {"mark": {"type": "rect", "filled": false, "stroke": "#8c8c8c", "strokeWidth": 1}, "encoding": {"x": {"datum": 0, "axis": null}, "x2": {"datum": 100}, "y": {"datum": 0, "axis": null}, "y2": {"datum": 100}}},
                {"data": {"values": [{"lo": 9, "hi": 83}]}, "mark": {"type": "rule", "color": "#555555"}, "encoding": {"x": {"field": "lo", "type": "quantitative", "axis": null}, "x2": {"field": "hi"}, "y": {"datum": 52, "axis": null}}},
                {"data": {"values": [{"lo": 9, "hi": 83}]}, "transform": [{"fold": ["lo", "hi"]}], "mark": {"type": "tick", "orient": "vertical", "size": 6, "thickness": 1, "color": "#555555"}, "encoding": {"x": {"field": "value", "type": "quantitative", "axis": null}, "y": {"datum": 52, "axis": null}}},
                {"mark": {"type": "text", "text": "3.08", "fontSize": 10}, "encoding": {"x": {"datum": 32, "axis": null}, "y": {"datum": 86, "axis": null}}},
                {"mark": {"type": "rule", "strokeWidth": 1.5, "color": "black"}, "encoding": {"x": {"datum": -28.6, "axis": null}, "y": {"datum": 2.9, "axis": null}, "y2": {"datum": 114}}},
                {"mark": {"type": "point", "shape": "triangle-up", "filled": true, "opacity": 1, "color": "black", "size": 40}, "encoding": {"x": {"datum": -28.6, "axis": null}, "y": {"datum": 114, "axis": null}}},
                {"mark": {"type": "text", "text": "Count", "angle": 270, "fontSize": 13}, "encoding": {"x": {"datum": -51.8, "axis": null}, "y": {"datum": 47.1, "axis": null}}},
                {"mark": {"type": "rule", "strokeWidth": 1.5, "color": "black"}, "encoding": {"x": {"datum": -5.4, "axis": null}, "x2": {"datum": 273}, "y": {"datum": -14.3, "axis": null}}},
                {"mark": {"type": "point", "shape": "triangle-right", "filled": true, "opacity": 1, "color": "black", "size": 40}, "encoding": {"x": {"datum": 273, "axis": null}, "y": {"datum": -14.3, "axis": null}}},
                {"mark": {"type": "text", "text": "CFSE", "align": "left", "fontSize": 12.5}, "encoding": {"x": {"datum": 12.5, "axis": null}, "y": {"datum": -32.9, "axis": null}}}
              ]
            }
          ]
        },
        {
          "width": 76, "height": 235,
          "data": {"values": [{}]},
          "resolve": {"scale": {"x": "independent", "y": "independent"}},
          "layer": [
            {
              "layer": [
                {"data": {"name": "h10W"}, "mark": {"type": "area", "color": "#9a9a9a", "stroke": "#555555", "strokeWidth": 0.7}, "encoding": {"x": {"field": "x", "type": "quantitative", "scale": {"domain": [0, 100], "range": [0, 71]}, "axis": null}, "y": {"field": "y", "type": "quantitative", "scale": {"domain": [0, 100], "range": [127, 53]}, "axis": null}}},
                {"mark": {"type": "rect", "filled": false, "stroke": "#8c8c8c", "strokeWidth": 1}, "encoding": {"x": {"datum": 0, "axis": null}, "x2": {"datum": 100}, "y": {"datum": 0, "axis": null}, "y2": {"datum": 100}}},
                {"data": {"values": [{"lo": 9.4, "hi": 64.3}]}, "mark": {"type": "rule", "color": "#555555"}, "encoding": {"x": {"field": "lo", "type": "quantitative", "axis": null}, "x2": {"field": "hi"}, "y": {"datum": 62.7, "axis": null}}},
                {"data": {"values": [{"lo": 9.4, "hi": 64.3}]}, "transform": [{"fold": ["lo", "hi"]}], "mark": {"type": "tick", "orient": "vertical", "size": 6, "thickness": 1, "color": "#555555"}, "encoding": {"x": {"field": "value", "type": "quantitative", "axis": null}, "y": {"datum": 62.7, "axis": null}}},
                {"mark": {"type": "text", "text": "82.98", "fontSize": 10}, "encoding": {"x": {"datum": 22, "axis": null}, "y": {"datum": 84, "axis": null}}},
                {"mark": {"type": "text", "text": "1:0", "fontSize": 12.5}, "encoding": {"x": {"datum": 46.5, "axis": null}, "y": {"datum": 114.9, "axis": null}}}
              ]
            },
            {
              "layer": [
                {"data": {"name": "h10M"}, "mark": {"type": "area", "color": "#9a9a9a", "stroke": "#555555", "strokeWidth": 0.7}, "encoding": {"x": {"field": "x", "type": "quantitative", "scale": {"domain": [0, 100], "range": [0, 71]}, "axis": null}, "y": {"field": "y", "type": "quantitative", "scale": {"domain": [0, 100], "range": [205, 135]}, "axis": null}}},
                {"mark": {"type": "rect", "filled": false, "stroke": "#8c8c8c", "strokeWidth": 1}, "encoding": {"x": {"datum": 0, "axis": null}, "x2": {"datum": 100}, "y": {"datum": 0, "axis": null}, "y2": {"datum": 100}}},
                {"data": {"values": [{"lo": 9.4, "hi": 64.3}]}, "mark": {"type": "rule", "color": "#555555"}, "encoding": {"x": {"field": "lo", "type": "quantitative", "axis": null}, "x2": {"field": "hi"}, "y": {"datum": 62, "axis": null}}},
                {"data": {"values": [{"lo": 9.4, "hi": 64.3}]}, "transform": [{"fold": ["lo", "hi"]}], "mark": {"type": "tick", "orient": "vertical", "size": 6, "thickness": 1, "color": "#555555"}, "encoding": {"x": {"field": "value", "type": "quantitative", "axis": null}, "y": {"datum": 62, "axis": null}}},
                {"mark": {"type": "text", "text": "83.47", "fontSize": 10}, "encoding": {"x": {"datum": 21, "axis": null}, "y": {"datum": 86, "axis": null}}}
              ]
            }
          ]
        },
        {
          "width": 77, "height": 235,
          "data": {"values": [{}]},
          "resolve": {"scale": {"x": "independent", "y": "independent"}},
          "layer": [
            {
              "layer": [
                {"data": {"name": "h11W"}, "mark": {"type": "area", "color": "#9a9a9a", "stroke": "#555555", "strokeWidth": 0.7}, "encoding": {"x": {"field": "x", "type": "quantitative", "scale": {"domain": [0, 100], "range": [0, 70]}, "axis": null}, "y": {"field": "y", "type": "quantitative", "scale": {"domain": [0, 100], "range": [127, 53]}, "axis": null}}},
                {"mark": {"type": "rect", "filled": false, "stroke": "#8c8c8c", "strokeWidth": 1}, "encoding": {"x": {"datum": 0, "axis": null}, "x2": {"datum": 100}, "y": {"datum": 0, "axis": null}, "y2": {"datum": 100}}},
                {"data": {"values": [{"lo": 23.8, "hi": 61.9}]}, "mark": {"type": "rule", "color": "#555555"}, "encoding": {"x": {"field": "lo", "type": "quantitative", "axis": null}, "x2": {"field": "hi"}, "y": {"datum": 62.7, "axis": null}}},
                {"data": {"values": [{"lo": 23.8, "hi": 61.9}]}, "transform": [{"fold": ["lo", "hi"]}], "mark": {"type": "tick", "orient": "vertical", "size": 6, "thickness": 1, "color": "#555555"}, "encoding": {"x": {"field": "value", "type": "quantitative", "axis": null}, "y": {"datum": 62.7, "axis": null}}},
                {"mark": {"type": "text", "text": "14.38", "fontSize": 10}, "encoding": {"x": {"datum": 28.6, "axis": null}, "y": {"datum": 84, "axis": null}}},
                {"mark": {"type": "text", "text": "1:1", "fontSize": 12.5}, "encoding": {"x": {"datum": 50, "axis": null}, "y": {"datum": 114.9, "axis": null}}},
                {"mark": {"type": "text", "text": "Anti-CD3/CD28", "fontSize": 12.5}, "encoding": {"x": {"datum": 45.7, "axis": null}, "y": {"datum": 147.3, "axis": null}}},
                {"mark": {"type": "rule", "color": "#777777", "strokeWidth": 1}, "encoding": {"x": {"datum": -114.3, "axis": null}, "x2": {"datum": 205.7}, "y": {"datum": 135.1, "axis": null}}}
              ]
            },
            {
              "layer": [
                {"data": {"name": "h11M"}, "mark": {"type": "area", "color": "#9a9a9a", "stroke": "#555555", "strokeWidth": 0.7}, "encoding": {"x": {"field": "x", "type": "quantitative", "scale": {"domain": [0, 100], "range": [0, 70]}, "axis": null}, "y": {"field": "y", "type": "quantitative", "scale": {"domain": [0, 100], "range": [205, 135]}, "axis": null}}},
                {"mark": {"type": "rect", "filled": false, "stroke": "#8c8c8c", "strokeWidth": 1}, "encoding": {"x": {"datum": 0, "axis": null}, "x2": {"datum": 100}, "y": {"datum": 0, "axis": null}, "y2": {"datum": 100}}},
                {"data": {"values": [{"lo": 23.8, "hi": 58.6}]}, "mark": {"type": "rule", "color": "#555555"}, "encoding": {"x": {"field": "lo", "type": "quantitative", "axis": null}, "x2": {"field": "hi"}, "y": {"datum": 59.5, "axis": null}}},
                {"data": {"values": [{"lo": 23.8, "hi": 58.6}]}, "transform": [{"fold": ["lo", "hi"]}], "mark": {"type": "tick", "orient": "vertical", "size": 6, "thickness": 1, "color": "#555555"}, "encoding": {"x": {"field": "value", "type": "quantitative", "axis": null}, "y": {"datum": 59.5, "axis": null}}},
                {"mark": {"type": "text", "text": "19.87", "fontSize": 10}, "encoding": {"x": {"datum": 30, "axis": null}, "y": {"datum": 86, "axis": null}}}
              ]
            }
          ]
        },
        {
          "width": 198, "height": 235,
          "data": {"values": [{}]},
          "resolve": {"scale": {"x": "independent", "y": "independent"}},
          "layer": [
            {
              "layer": [
                {"data": {"name": "h41W"}, "mark": {"type": "area", "color": "#9a9a9a", "stroke": "#555555", "strokeWidth": 0.7}, "encoding": {"x": {"field": "x", "type": "quantitative", "scale": {"domain": [0, 100], "range": [0, 69]}, "axis": null}, "y": {"field": "y", "type": "quantitative", "scale": {"domain": [0, 100], "range": [127, 53]}, "axis": null}}},
                {"mark": {"type": "rect", "filled": false, "stroke": "#8c8c8c", "strokeWidth": 1}, "encoding": {"x": {"datum": 0, "axis": null}, "x2": {"datum": 100}, "y": {"datum": 0, "axis": null}, "y2": {"datum": 100}}},
                {"data": {"values": [{"lo": 23, "hi": 62.5}]}, "mark": {"type": "rule", "color": "#555555"}, "encoding": {"x": {"field": "lo", "type": "quantitative", "axis": null}, "x2": {"field": "hi"}, "y": {"datum": 62.7, "axis": null}}},
                {"data": {"values": [{"lo": 23, "hi": 62.5}]}, "transform": [{"fold": ["lo", "hi"]}], "mark": {"type": "tick", "orient": "vertical", "size": 6, "thickness": 1, "color": "#555555"}, "encoding": {"x": {"field": "value", "type": "quantitative", "axis": null}, "y": {"datum": 62.7, "axis": null}}},
                {"mark": {"type": "text", "text": "45.26", "fontSize": 10}, "encoding": {"x": {"datum": 24, "axis": null}, "y": {"datum": 84, "axis": null}}},
                {"mark": {"type": "text", "text": "4:1", "fontSize": 12.5}, "encoding": {"x": {"datum": 47.8, "axis": null}, "y": {"datum": 114.9, "axis": null}}},
                {"mark": {"type": "text", "text": "T cell:MDSC", "fontSize": 12}, "encoding": {"x": {"datum": 159.4, "axis": null}, "y": {"datum": 114.9, "axis": null}}},
                {"mark": {"type": "text", "text": "WT", "align": "left", "fontSize": 12}, "encoding": {"x": {"datum": 113, "axis": null}, "y": {"datum": 53.4, "axis": null}}}
              ]
            },
            {
              "layer": [
                {"data": {"name": "h41M"}, "mark": {"type": "area", "color": "#9a9a9a", "stroke": "#555555", "strokeWidth": 0.7}, "encoding": {"x": {"field": "x", "type": "quantitative", "scale": {"domain": [0, 100], "range": [0, 69]}, "axis": null}, "y": {"field": "y", "type": "quantitative", "scale": {"domain": [0, 100], "range": [205, 135]}, "axis": null}}},
                {"mark": {"type": "rect", "filled": false, "stroke": "#8c8c8c", "strokeWidth": 1}, "encoding": {"x": {"datum": 0, "axis": null}, "x2": {"datum": 100}, "y": {"datum": 0, "axis": null}, "y2": {"datum": 100}}},
                {"data": {"values": [{"lo": 23, "hi": 62.5}]}, "mark": {"type": "rule", "color": "#555555"}, "encoding": {"x": {"field": "lo", "type": "quantitative", "axis": null}, "x2": {"field": "hi"}, "y": {"datum": 61, "axis": null}}},
                {"data": {"values": [{"lo": 23, "hi": 62.5}]}, "transform": [{"fold": ["lo", "hi"]}], "mark": {"type": "tick", "orient": "vertical", "size": 6, "thickness": 1, "color": "#555555"}, "encoding": {"x": {"field": "value", "type": "quantitative", "axis": null}, "y": {"datum": 61, "axis": null}}},
                {"mark": {"type": "text", "text": "60.41", "fontSize": 10}, "encoding": {"x": {"datum": 25, "axis": null}, "y": {"datum": 86, "axis": null}}},
                {"mark": {"type": "text", "text": "MBL", "align": "left", "fontSize": 12}, "encoding": {"x": {"datum": 113, "axis": null}, "y": {"datum": 54.7, "axis": null}}},
                {"mark": {"type": "text", "text": "-/-", "align": "left", "fontSize": 8}, "encoding": {"x": {"datum": 150, "axis": null}, "y": {"datum": 61.1, "axis": null}}}
              ]
            }
          ]
        },
        {
          "width": 330, "height": 192,
          "data": {"name": "dE"},
          "layer": [
            {"mark": {"type": "bar", "stroke": "black", "strokeWidth": 1.2}, "encoding": {
              "x": {"field": "c", "type": "nominal", "scale": {"domain": ["non-Sti", "1:0", "1:1", "4:1"], "range": [0, 189], "paddingInner": 0.415, "paddingOuter": 0.148, "align": 1}, "axis": {"labelFontSize": 12}, "title": null},
              "xOffset": {"field": "g", "type": "nominal", "scale": {"domain": ["WT", "MBL"], "paddingInner": 0.2}},
              "y": {"field": "val", "type": "quantitative", "scale": {"domain": [0, 100], "range": [192, 67]}, "axis": {"values": [0, 20, 40, 60, 80, 100], "tickCount": 12, "labelFontSize": 9.5, "titleFontSize": 14, "titleX": -21, "titleBaseline": "middle"}, "title": "CFSE (%)"},
              "fill": {"field": "g", "type": "nominal", "scale": {"domain": ["WT", "MBL"], "range": ["white", "black"]}, "legend": {"orient": "none", "legendX": 197, "legendY": 69, "title": null, "symbolType": "M-1,-0.7H1V0.7H-1Z", "symbolSize": 150, "symbolStrokeColor": "black", "symbolStrokeWidth": 1.2, "labelFontSize": 12, "labelOffset": 6, "rowPadding": 3, "labelExpr": "datum.label == 'MBL' ? 'MBL⁻/⁻' : datum.label"}}
            }},
            {"mark": {"type": "rule", "color": "black", "strokeWidth": 1.2}, "encoding": {"x": {"field": "c", "type": "nominal", "title": null}, "xOffset": {"field": "g", "type": "nominal"}, "y": {"field": "val", "type": "quantitative", "title": "CFSE (%)"}, "y2": {"field": "hi"}}},
            {"mark": {"type": "tick", "color": "black", "size": 7, "thickness": 1.2}, "encoding": {"x": {"field": "c", "type": "nominal", "title": null}, "xOffset": {"field": "g", "type": "nominal"}, "y": {"field": "hi", "type": "quantitative", "title": "CFSE (%)"}}},
            {"data": {"name": "eSig"}, "mark": {"type": "tick", "color": "#333333", "size": 31, "thickness": 1.2}, "encoding": {"x": {"field": "c", "type": "nominal", "title": null}, "y": {"field": "at", "type": "quantitative", "title": "CFSE (%)"}}},
            {"data": {"name": "eSig"}, "transform": [{"filter": "datum.p == 'NS'"}], "mark": {"type": "text", "fontSize": 12.5, "baseline": "alphabetic", "dy": -5}, "encoding": {"x": {"field": "c", "type": "nominal", "title": null}, "y": {"field": "at", "type": "quantitative", "title": "CFSE (%)"}, "text": {"field": "p"}}},
            {"data": {"name": "eSig"}, "transform": [{"filter": "datum.p != 'NS'"}], "mark": {"type": "text", "fontSize": 15, "baseline": "alphabetic", "dy": 2.5, "color": "#333333"}, "encoding": {"x": {"field": "c", "type": "nominal", "title": null}, "y": {"field": "at", "type": "quantitative", "title": "CFSE (%)"}, "text": {"field": "p"}}},
            {"data": {"values": [{}]}, "mark": {"type": "tick", "color": "#333333", "size": 120, "thickness": 1}, "encoding": {"x": {"datum": "1:1", "title": null}, "y": {"datum": -16, "title": "CFSE (%)"}}},
            {"data": {"values": [{}]}, "mark": {"type": "text", "text": "T cell:MDSC", "fontSize": 12}, "encoding": {"x": {"datum": "1:1", "title": null}, "y": {"datum": -24.8, "title": "CFSE (%)"}}}
          ]
        }
      ],
      "spacing": 0,
      "bounds": "flush",
      "resolve": {"scale": {"x": "independent", "y": "independent", "xOffset": "independent", "fill": "independent", "size": "independent", "opacity": "independent", "shape": "independent", "color": "independent"}}
    }
  ]
}
